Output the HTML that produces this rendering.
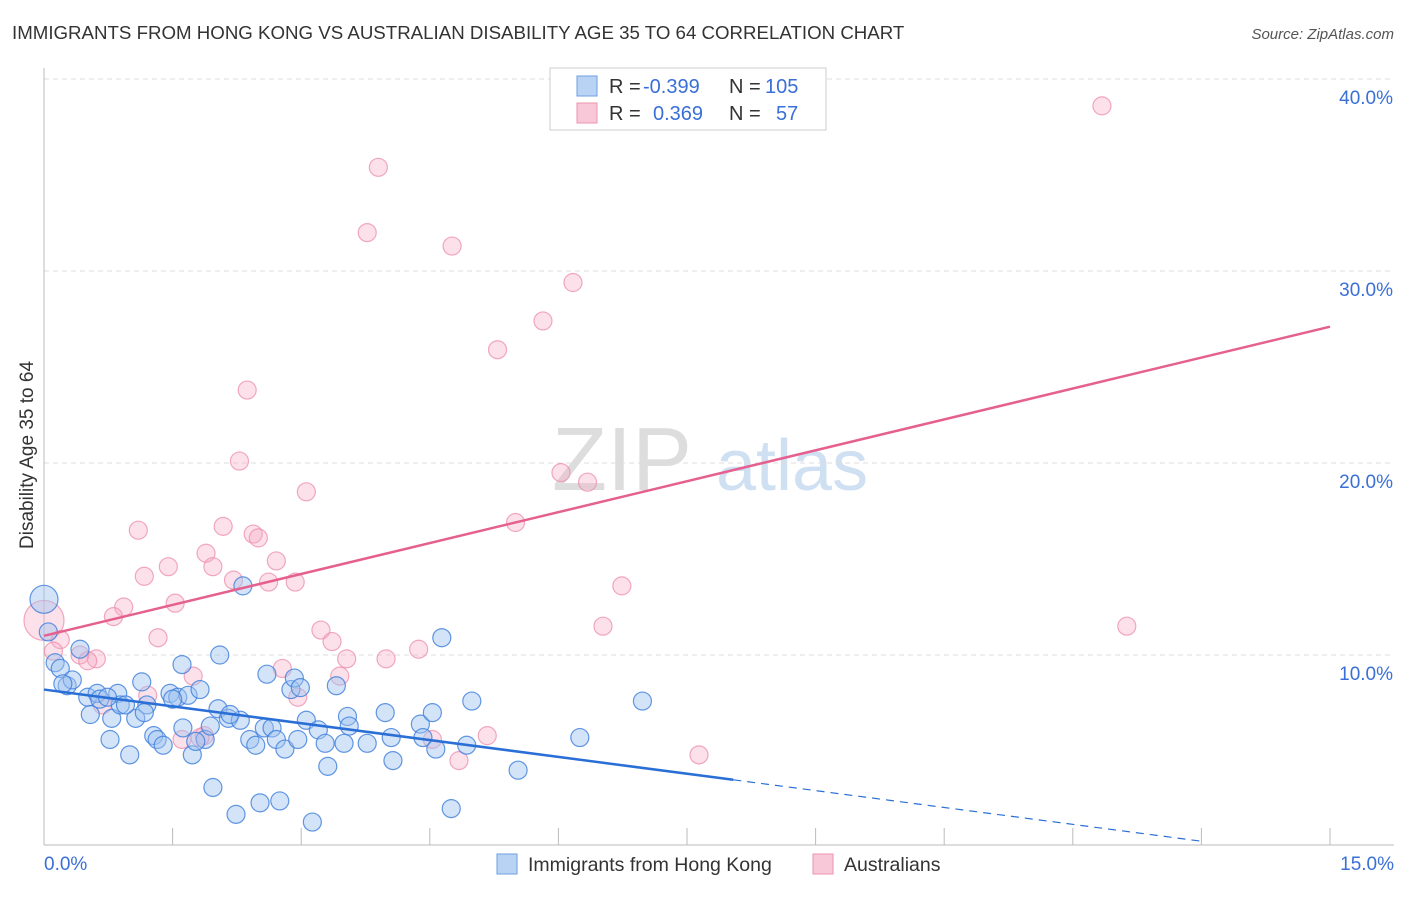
<!DOCTYPE html>
<html><head><meta charset="utf-8"><style>
body{margin:0;background:#fff;font-family:"Liberation Sans",sans-serif;}
svg text{font-family:"Liberation Sans",sans-serif;}
</style></head><body>
<svg id="chart" width="1406" height="892" xmlns="http://www.w3.org/2000/svg">
<text x="12" y="39" font-size="18.7" fill="#333">IMMIGRANTS FROM HONG KONG VS AUSTRALIAN DISABILITY AGE 35 TO 64 CORRELATION CHART</text>
<text x="1394" y="39" font-size="15" fill="#555" text-anchor="end" font-style="italic">Source: ZipAtlas.com</text>
<g>
<text x="552" y="490" font-size="90" fill="#ddd" font-family="Liberation Serif" >ZIP</text>
<text x="716" y="490" font-size="72" fill="#cfe0f3">atlas</text>
</g>
<g id="grid"></g>
<g id="marks"></g>
<text transform="translate(33,455) rotate(-90)" font-size="19" fill="#333" text-anchor="middle">Disability Age 35 to 64</text>
<g>
<rect x="550" y="68" width="276" height="62" fill="#fff" stroke="#ccc"/>
<rect x="577" y="76" width="20" height="20" fill="#b9d3f5" stroke="#6e9fe0"/>
<rect x="577" y="103" width="20" height="20" fill="#f9c8d8" stroke="#ec93b1"/>
<text x="609" y="93" font-size="20" fill="#333">R = </text>
<text x="643" y="93" font-size="20" fill="#3a6fd8">-0.399</text>
<text x="729" y="93" font-size="20" fill="#333">N = </text>
<text x="765" y="93" font-size="20" fill="#3a6fd8">105</text>
<text x="609" y="120" font-size="20" fill="#333">R = </text>
<text x="653" y="120" font-size="20" fill="#3a6fd8">0.369</text>
<text x="729" y="120" font-size="20" fill="#333">N = </text>
<text x="776" y="120" font-size="20" fill="#3a6fd8">57</text>
</g>
<g>
<rect x="497" y="854" width="20" height="20" fill="#b9d3f5" stroke="#6e9fe0"/>
<text x="528" y="871" font-size="19.5" fill="#333">Immigrants from Hong Kong</text>
<rect x="813" y="854" width="20" height="20" fill="#f9c8d8" stroke="#ec93b1"/>
<text x="844" y="871" font-size="19.5" fill="#333">Australians</text>
</g>
</svg>
<script>
const xTicks=[0,1.5,3,4.5,6,7.5,9,10.5,12,13.5,15];
const yTicks=[10,20,30,40];
const blueX=[0,0.05,0.13,0.19,0.27,0.33,0.42,0.51,0.54,0.62,0.65,0.77,0.79,0.86,0.89,1.0,1.07,1.14,1.2,1.28,1.32,1.39,1.47,1.56,1.61,1.62,1.68,1.73,1.82,1.88,1.94,1.97,2.03,2.05,2.15,2.24,2.29,2.32,2.4,2.47,2.52,2.57,2.6,2.66,2.71,2.75,2.81,2.88,2.92,2.99,2.96,3.06,3.13,3.2,3.28,3.31,3.41,3.5,3.54,3.56,3.77,3.98,4.05,4.07,4.39,4.42,4.53,4.57,4.64,4.75,4.93,4.99,5.53,6.25,6.98,0.22,0.74,0.95,1.17,1.5,1.77,2.17];
const blueY=[12.9,11.2,9.6,9.3,8.4,8.7,10.3,7.8,6.9,8.0,7.7,5.6,6.7,8.0,7.4,4.8,6.7,8.6,7.4,5.8,5.6,5.3,8.0,7.8,9.5,6.2,7.9,4.8,8.2,5.6,6.3,3.1,7.2,10.0,6.7,1.7,6.6,13.6,5.6,5.3,2.3,6.2,9.0,6.2,5.6,2.4,5.1,8.2,8.8,8.3,5.6,6.6,1.3,6.1,5.4,4.2,8.4,5.4,6.8,6.3,5.4,7.0,5.7,4.5,6.4,5.7,7.0,5.1,10.9,2.0,5.3,7.6,4.0,5.7,7.6,8.5,7.8,7.4,7.0,7.7,5.5,6.9];
const pinkX=[12.34,3.9,3.77,4.76,6.17,5.82,5.29,2.37,2.28,3.06,6.03,6.34,5.5,1.1,2.09,2.44,2.5,1.89,2.71,1.45,1.97,1.17,2.21,2.62,2.93,6.74,1.53,0.93,0.81,0,6.52,12.63,3.23,1.33,3.36,0.19,4.37,0.11,0.42,0.61,0.51,3.53,3.99,2.78,1.74,3.45,2.96,1.21,0.68,1.87,1.61,5.17,4.53,4.84,7.64,1.82];
const pinkY=[38.6,35.4,32.0,31.3,29.4,27.4,25.9,23.8,20.1,18.5,19.5,19.0,16.9,16.5,16.7,16.3,16.1,15.3,14.9,14.6,14.6,14.1,13.9,13.8,13.8,13.6,12.7,12.5,12.0,11.8,11.5,11.5,11.3,10.9,10.7,10.8,10.3,10.2,10.0,9.8,9.7,9.8,9.8,9.3,8.9,8.9,7.8,7.9,7.4,5.8,5.6,5.8,5.6,4.5,4.8,5.7];
const blueTrend=[[0,8.2],[8.04,3.5],[13.5,0.3]];
const pinkTrend=[[0,11.0],[15,27.1]];
const X=v=>44+v*(1286/15), Y=v=>847-v*19.2;
const NS='http://www.w3.org/2000/svg';
const grid=document.getElementById('grid'), marks=document.getElementById('marks'), svg=document.getElementById('chart');
function mk(tag,attrs,parent){const e=document.createElementNS(NS,tag);for(const k in attrs)e.setAttribute(k,attrs[k]);parent.appendChild(e);return e;}
yTicks.forEach(t=>{
 const l=mk('line',{x1:44,x2:1394,y1:Y(t),y2:Y(t),stroke:'#ddd','stroke-dasharray':'5,4'},grid);
 
 
 const tx=mk('text',{x:1393,y:Y(t)+25,'font-size':19,fill:'#3a6fd8','text-anchor':'end'},svg);
 tx.textContent=t.toFixed(1)+'%';
 
 
});
const ax=mk('line',{x1:44,x2:1394,y1:845,y2:845,stroke:'#bbb'},grid);


const ay=mk('line',{x1:44,x2:44,y1:68,y2:845,stroke:'#bbb'},grid);


xTicks.forEach(t=>{
 const l=mk('line',{x1:X(t),x2:X(t),y1:828,y2:845,stroke:'#bbb'},grid);
 
 
});
[[0,'start',44],[15,'end',1394]].forEach(([t,a,px])=>{
 const tx=mk('text',{x:px,y:870,'font-size':19,fill:'#3a6fd8','text-anchor':a},svg);
 tx.textContent=t.toFixed(1)+'%';
 
 
});
pinkX.forEach((v,i)=>{
 const c=mk('circle',{cx:X(v),cy:Y(pinkY[i]),r:v===0?20:9,fill:'rgba(246,170,195,0.35)',stroke:'rgba(236,140,172,0.75)','stroke-width':1.2},marks);
 
 
});
blueX.forEach((v,i)=>{
 const c=mk('circle',{cx:X(v),cy:Y(blueY[i]),r:v===0?14:9,fill:'rgba(160,195,240,0.45)',stroke:'rgba(60,125,220,0.8)','stroke-width':1.2},marks);
 
 
});
const bl=mk('line',{x1:X(blueTrend[0][0]),y1:Y(blueTrend[0][1]),x2:X(blueTrend[1][0]),y2:Y(blueTrend[1][1]),stroke:'#2a6fd6','stroke-width':2.5},marks);


const bd=mk('line',{x1:X(blueTrend[1][0]),y1:Y(blueTrend[1][1]),x2:X(blueTrend[2][0]),y2:Y(blueTrend[2][1]),stroke:'#2a6fd6','stroke-width':1.2,'stroke-dasharray':'8,6'},marks);


const pl=mk('line',{x1:X(pinkTrend[0][0]),y1:Y(pinkTrend[0][1]),x2:X(pinkTrend[1][0]),y2:Y(pinkTrend[1][1]),stroke:'#e5608e','stroke-width':2.5},marks);


</script>
</body></html>
